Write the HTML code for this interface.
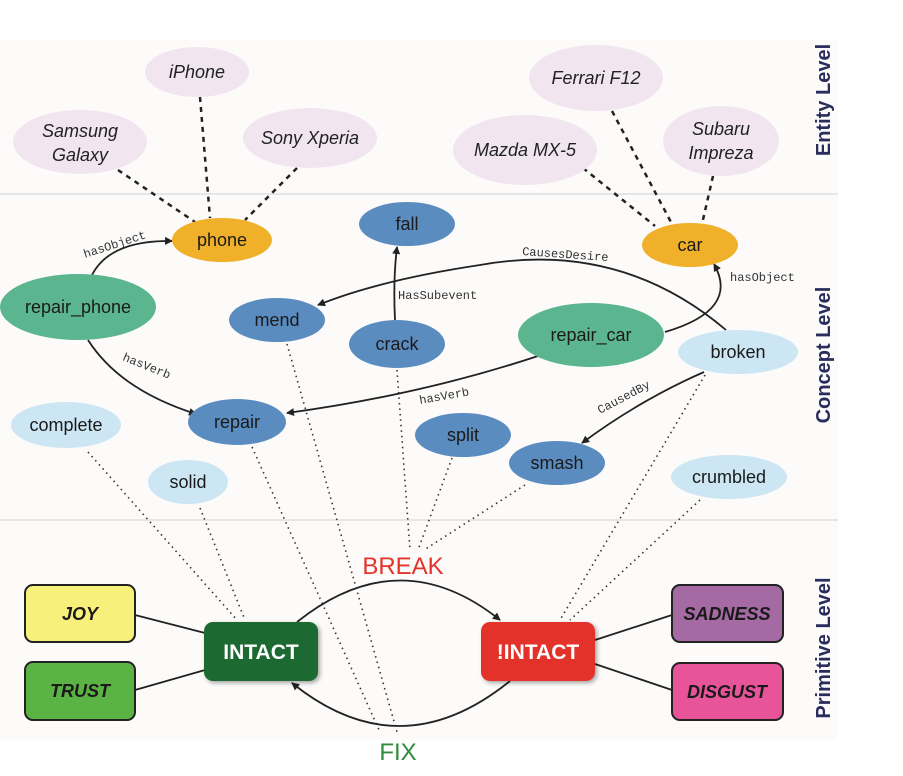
<!DOCTYPE html>
<html><head><style>
body{margin:0;background:#fff;}
svg{display:block;font-family:"Liberation Sans",sans-serif;}
</style></head><body>
<svg width="903" height="776" viewBox="0 0 903 776">
<defs>
<marker id="a" markerWidth="8" markerHeight="8" refX="7" refY="4" orient="auto" markerUnits="userSpaceOnUse"><path d="M0,0 L8,4 L0,8 Z" fill="#222"/></marker>
<filter id="sh"><feDropShadow dx="2" dy="2" stdDeviation="2" flood-opacity="0.35"/></filter>
</defs>
<rect x="0" y="40" width="838" height="700" fill="#fcfbfa"/>
<line x1="0" y1="194" x2="838" y2="194" stroke="#e6e6e6" stroke-width="2"/>
<line x1="0" y1="520" x2="838" y2="520" stroke="#e6e6e6" stroke-width="2"/>
<!-- entity dashed -->
<g stroke="#222" stroke-width="2.5" stroke-dasharray="5,5">
<line x1="118" y1="170" x2="195" y2="222"/><line x1="200" y1="97" x2="210" y2="218"/><line x1="297" y1="168" x2="245" y2="220"/>
<line x1="583" y1="168" x2="655" y2="226"/><line x1="612" y1="111" x2="672" y2="224"/><line x1="713" y1="176" x2="702" y2="224"/>
</g>
<!-- dotted -->
<g stroke="#333" stroke-width="1.6" stroke-dasharray="1.5,4">
<line x1="88" y1="452" x2="237" y2="620"/><line x1="200" y1="508" x2="245" y2="620"/>
<line x1="252" y1="447" x2="380" y2="732"/><line x1="287" y1="344" x2="397" y2="732"/>
<line x1="397" y1="370" x2="410" y2="550"/><line x1="452" y1="458" x2="418" y2="550"/><line x1="525" y1="485" x2="424" y2="550"/>
<line x1="705" y1="375" x2="560" y2="620"/><line x1="700" y1="500" x2="570" y2="620"/>
</g>
<!-- entity nodes -->
<g fill="#f1e6f0"><ellipse cx="197" cy="72" rx="52" ry="25"/><ellipse cx="80" cy="142" rx="67" ry="32"/><ellipse cx="310" cy="138" rx="67" ry="30"/><ellipse cx="596" cy="78" rx="67" ry="33"/><ellipse cx="525" cy="150" rx="72" ry="35"/><ellipse cx="721" cy="141" rx="58" ry="35"/></g>
<g font-size="18" font-style="italic" fill="#222" text-anchor="middle">
<text x="197" y="78">iPhone</text><text x="80" y="137">Samsung</text><text x="80" y="161">Galaxy</text><text x="310" y="144">Sony Xperia</text><text x="596" y="84">Ferrari F12</text><text x="525" y="156">Mazda MX-5</text><text x="721" y="135">Subaru</text><text x="721" y="159">Impreza</text>
</g>
<!-- arrows -->
<g fill="none" stroke="#222" stroke-width="1.8">
<path d="M92,275 Q110,240 172,241" marker-end="url(#a)"/>
<path d="M88,340 Q120,390 196,414" marker-end="url(#a)"/>
<path d="M538,356 Q420,395 287,413" marker-end="url(#a)"/>
<path d="M665,332 Q740,310 714,264" marker-end="url(#a)"/>
<path d="M726,330 Q620,240 480,265 Q380,280 318,305" marker-end="url(#a)"/>
<path d="M395,320 Q393,280 397,247" marker-end="url(#a)"/>
<path d="M704,372 Q640,400 582,443" marker-end="url(#a)"/>
<path d="M297,622 Q400,540 500,620" marker-end="url(#a)"/>
<path d="M510,681 Q400,770 292,683" marker-end="url(#a)"/>
</g>
<g font-family="'Liberation Mono',monospace" font-size="12" fill="#333">
<text x="85" y="258" transform="rotate(-18 85 258)">hasObject</text>
<text x="122" y="360" transform="rotate(22 122 360)">hasVerb</text>
<text x="420" y="404" transform="rotate(-10 420 404)">hasVerb</text>
<text x="730" y="281">hasObject</text>
<text x="522" y="255" transform="rotate(4 522 255)">CausesDesire</text>
<text x="398" y="299">HasSubevent</text>
<text x="600" y="414" transform="rotate(-28 600 414)">CausedBy</text>
</g>
<!-- concept nodes -->
<g fill="#f0b02a"><ellipse cx="222" cy="240" rx="50" ry="22"/><ellipse cx="690" cy="245" rx="48" ry="22"/></g>
<g fill="#5bb58f"><ellipse cx="78" cy="307" rx="78" ry="33"/><ellipse cx="591" cy="335" rx="73" ry="32"/></g>
<g fill="#5b8cc0"><ellipse cx="407" cy="224" rx="48" ry="22"/><ellipse cx="277" cy="320" rx="48" ry="22"/><ellipse cx="397" cy="344" rx="48" ry="24"/><ellipse cx="237" cy="422" rx="49" ry="23"/><ellipse cx="463" cy="435" rx="48" ry="22"/><ellipse cx="557" cy="463" rx="48" ry="22"/></g>
<g fill="#cde6f3"><ellipse cx="738" cy="352" rx="60" ry="22"/><ellipse cx="66" cy="425" rx="55" ry="23"/><ellipse cx="188" cy="482" rx="40" ry="22"/><ellipse cx="729" cy="477" rx="58" ry="22"/></g>
<g font-size="18" fill="#1a1a1a" text-anchor="middle">
<text x="222" y="246">phone</text><text x="690" y="251">car</text><text x="78" y="313">repair_phone</text><text x="591" y="341">repair_car</text>
<text x="407" y="230">fall</text><text x="277" y="326">mend</text><text x="397" y="350">crack</text><text x="237" y="428">repair</text><text x="463" y="441">split</text><text x="557" y="469">smash</text>
<text x="738" y="358">broken</text><text x="66" y="431">complete</text><text x="188" y="488">solid</text><text x="729" y="483">crumbled</text>
</g>
<!-- primitive -->
<g stroke="#222" stroke-width="1.8">
<line x1="135" y1="615" x2="205" y2="633"/><line x1="135" y1="690" x2="205" y2="670"/>
<line x1="595" y1="640" x2="672" y2="615"/><line x1="595" y1="664" x2="672" y2="690"/>
</g>
<g stroke="#222" stroke-width="2">
<rect x="25" y="585" width="110" height="57" rx="8" fill="#f7f07a"/>
<rect x="25" y="662" width="110" height="58" rx="8" fill="#5bb345"/>
<rect x="672" y="585" width="111" height="57" rx="8" fill="#a569a4"/>
<rect x="672" y="663" width="111" height="57" rx="8" fill="#e8549a"/>
</g>
<rect x="204" y="622" width="114" height="59" rx="9" fill="#1e6a30" filter="url(#sh)"/>
<rect x="481" y="622" width="114" height="59" rx="9" fill="#e3332b" filter="url(#sh)"/>
<g font-size="18" font-weight="bold" font-style="italic" fill="#1a1a1a" text-anchor="middle">
<text x="80" y="620">JOY</text><text x="80" y="697">TRUST</text><text x="727" y="620">SADNESS</text><text x="727" y="698">DISGUST</text>
</g>
<g font-size="21" font-weight="bold" fill="#fff" text-anchor="middle"><text x="261" y="659">INTACT</text><text x="538" y="659">!INTACT</text></g>
<text x="403" y="574" font-size="24" fill="#e3332b" text-anchor="middle">BREAK</text>
<text x="398" y="760" font-size="24" fill="#2e8b3a" text-anchor="middle">FIX</text>
<g font-size="20" font-weight="bold" fill="#2a2d5c" text-anchor="middle">
<text transform="translate(830,100) rotate(-90)">Entity Level</text>
<text transform="translate(830,355) rotate(-90)">Concept Level</text>
<text transform="translate(830,648) rotate(-90)">Primitive Level</text>
</g>
</svg>
</body></html>
